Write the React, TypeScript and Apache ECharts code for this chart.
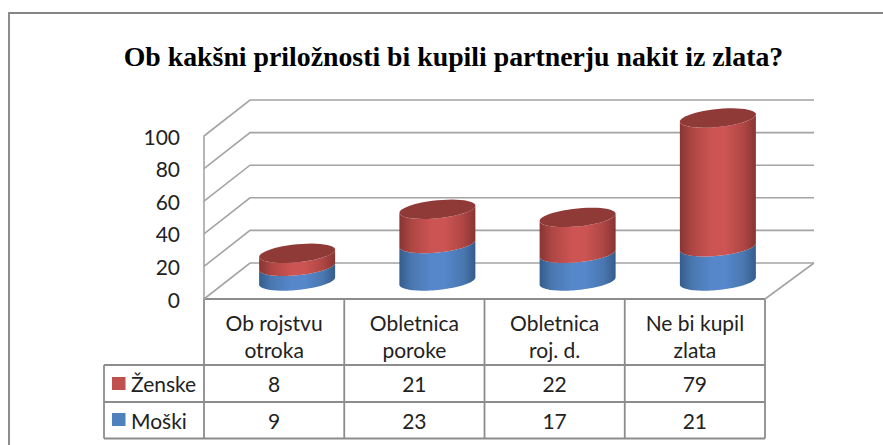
import React, { useEffect, useRef } from "react";
import * as echarts from "echarts";

const title = "Ob kakšni priložnosti bi kupili partnerju nakit iz zlata?";
const categories = ["Ob rojstvu\notroka", "Obletnica\nporoke", "Obletnica\nroj. d.", "Ne bi kupil\nzlata"];
const moski = [9, 23, 17, 21];
const zenske = [8, 21, 22, 79];
const ticks = [0, 20, 40, 60, 80, 100];

const FONT = "Lato";
const GRID = { left: 204, right: 765, top: 136, bottom: 299 };
const DEPTH = { x: 46, y: -36 };
const BACK_RIGHT = 814;
const TABLE = { left: 104, right: 765, top: 300, r1: 365, r2: 402, bottom: 438.5 };
const LINE = "#a4a4a4";
const TABLE_LINE = "#8c8c8c";

function ellipsePts(cx: number, cy: number, from: number, to: number) {
  const a = 38, b = 9, s = 3.6;
  const pts: number[][] = [];
  const n = 48;
  for (let i = 0; i <= n; i++) {
    const t = from + ((to - from) * i) / n;
    pts.push([cx + a * Math.cos(t), cy + b * Math.sin(t) - s * Math.cos(t)]);
  }
  return pts;
}

function cylinderSeries(name: string, values: number[], bases: number[], stops: string[], topColor: string) {
  return {
    type: "custom",
    name,
    coordinateSystem: "cartesian2d",
    clip: false,
    z: 5,
    data: values.map((v, i) => [i, v, bases[i]]),
    encode: { x: 0, y: 1 },
    renderItem: (_p: any, api: any) => {
      const i = api.value(0);
      const v = api.value(1);
      const base = api.value(2);
      const p0 = api.coord([i, base]);
      const p1 = api.coord([i, base + v]);
      const cx = p0[0] + DEPTH.x / 2;
      const y0 = p0[1] + DEPTH.y / 2;
      const y1 = p1[1] + DEPTH.y / 2;
      const body = [...ellipsePts(cx, y0, Math.PI, 0), ...ellipsePts(cx, y1, 0, Math.PI)];
      return {
        type: "group",
        children: [
          {
            type: "polygon",
            shape: { points: body },
            style: {
              fill: new echarts.graphic.LinearGradient(0, 0, 1, 0, [
                { offset: 0, color: stops[0] },
                { offset: 0.16, color: stops[1] },
                { offset: 0.42, color: stops[2] },
                { offset: 0.6, color: stops[2] },
                { offset: 0.84, color: stops[1] },
                { offset: 1, color: stops[0] },
              ]),
            },
          },
          ...(topColor
            ? [{ type: "polygon", shape: { points: ellipsePts(cx, y1, 0, Math.PI * 2) }, style: { fill: topColor } }]
            : []),
        ],
      };
    },
  };
}

function cellText(text: string, x: number, y: number, align = "center") {
  return {
    type: "text",
    x,
    y,
    z: 10,
    style: { text, align, verticalAlign: "middle", font: `21px ${FONT}`, fill: "#222222" },
  };
}

function hLine(x1: number, y: number, x2: number, stroke = TABLE_LINE) {
  return { type: "line", z: 8, shape: { x1, y1: y, x2, y2: y }, style: { stroke, lineWidth: 1.8 } };
}
function vLine(x: number, y1: number, y2: number, stroke = TABLE_LINE) {
  return { type: "line", z: 8, shape: { x1: x, y1, x2: x, y2 }, style: { stroke, lineWidth: 1.8 } };
}

export default function App() {
  const ref = useRef<HTMLDivElement>(null);
  useEffect(() => {
    document.body.style.margin = "0";
    const chart = echarts.init(ref.current!, undefined, { renderer: "svg" });
    const colW = (TABLE.right - GRID.left) / categories.length;
    const colX = categories.map((_, i) => GRID.left + colW * (i + 0.5));
    const walls = {
      type: "custom",
      coordinateSystem: "cartesian2d",
      clip: false,
      silent: true,
      z: 1,
      data: ticks.map((t) => [0, t]),
      encode: { y: 1 },
      renderItem: (_p: any, api: any) => {
        const y = api.coord([0, api.value(1)])[1];
        return {
          type: "polyline",
          shape: { points: [[GRID.left, y], [GRID.left + DEPTH.x, y + DEPTH.y], [BACK_RIGHT, y + DEPTH.y]] },
          style: { stroke: LINE, lineWidth: 1.6, fill: "none" },
        };
      },
    };
    chart.setOption({
      animation: false,
      backgroundColor: "#ffffff",
      title: {
        text: title,
        left: 448.5,
        top: 37,
        textAlign: "center",
        textStyle: { fontFamily: "Liberation Serif", fontWeight: "bold", fontSize: 27.8, color: "#000000" },
      },
      grid: { left: GRID.left, top: GRID.top, width: GRID.right - GRID.left, height: GRID.bottom - GRID.top },
      xAxis: {
        type: "category",
        data: categories,
        axisTick: { show: false },
        axisLine: { lineStyle: { color: TABLE_LINE, width: 1.8 } },
        axisLabel: { fontFamily: FONT, fontSize: 21, color: "#222222", lineHeight: 27, margin: 10, interval: 0 },
      },
      yAxis: {
        type: "value",
        min: 0,
        max: 100,
        interval: 20,
        axisLine: { show: true, lineStyle: { color: LINE, width: 1.6 } },
        axisTick: { show: false },
        splitLine: { show: false },
        axisLabel: { fontFamily: FONT, fontSize: 21, color: "#222222", margin: 24 },
      },
      series: [
        walls,
        cylinderSeries("Moški", moski, moski.map(() => 0), ["#345d8c", "#4a77b0", "#5587ca"], ""),
        cylinderSeries("Ženske", zenske, moski, ["#873533", "#ae4644", "#cc5452"], "#903a38"),
      ],
      graphic: [
        { type: "line", z: 0, shape: { x1: 9, y1: 13, x2: 883, y2: 13 }, style: { stroke: "#858585", lineWidth: 2 } },
        { type: "line", z: 0, shape: { x1: 9, y1: 12, x2: 9, y2: 445 }, style: { stroke: "#8c8c8c", lineWidth: 2 } },
        { type: "line", z: 2, shape: { x1: GRID.right, y1: GRID.bottom, x2: GRID.right + 49, y2: GRID.bottom + DEPTH.y }, style: { stroke: LINE, lineWidth: 1.6 } },
        hLine(TABLE.left, TABLE.r1, TABLE.right),
        hLine(TABLE.left, TABLE.r2, TABLE.right),
        hLine(TABLE.left, TABLE.bottom, TABLE.right),
        vLine(TABLE.left, TABLE.r1, TABLE.bottom),
        ...[0, 1, 2, 3, 4].map((i) => vLine(GRID.left + colW * i, TABLE.top, TABLE.bottom)),
        { type: "rect", z: 10, shape: { x: 112, y: 377, width: 13.5, height: 13 }, style: { fill: "#c0504d" } },
        { type: "rect", z: 10, shape: { x: 112, y: 413, width: 13.5, height: 13 }, style: { fill: "#4f81bd" } },
        cellText("Ženske", 131, 383.5, "left"),
        cellText("Moški", 131, 420.5, "left"),
        ...zenske.map((v, i) => cellText(String(v), colX[i], 383.5)),
        ...moski.map((v, i) => cellText(String(v), colX[i], 420.5)),
      ],
    });
    return () => chart.dispose();
  }, []);
  return <div ref={ref} style={{ position: "fixed", left: 0, top: 0, width: 883, height: 445 }} />;
}
